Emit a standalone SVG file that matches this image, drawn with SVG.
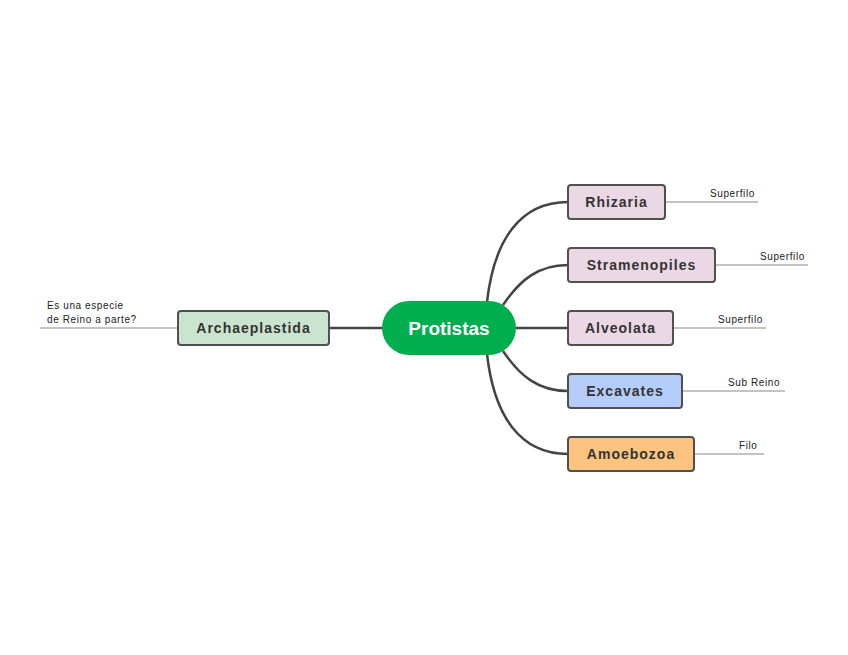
<svg xmlns="http://www.w3.org/2000/svg" width="848" height="655" viewBox="0 0 848 655">
<style>
.node{stroke:#505050;stroke-width:2}
.lbl{font-family:"Liberation Sans",Arial,sans-serif;font-size:14px;font-weight:bold;fill:#333;letter-spacing:1px}
.leaf{font-family:"Liberation Sans",Arial,sans-serif;font-size:10px;fill:#222;letter-spacing:0.6px}
.con{fill:none;stroke:#444;stroke-width:2.5}
.lline{fill:none;stroke:#888;stroke-width:1.2}
</style>
<rect width="848" height="655" fill="#fff"/>
<g id="connectors">
<path class="con" d="M329,328 H384"/>
<path class="con" d="M514,328 H568"/>
<path class="con" d="M487,302 C494,240 520,202 568,202"/>
<path class="con" d="M503,305 C520,280 538,265 568,265"/>
<path class="con" d="M503,351 C520,376 538,391 568,391"/>
<path class="con" d="M487,354 C494,416 520,454 568,454"/>
<path class="lline" d="M40,328 H178"/>
<path class="lline" d="M665,202 H758"/>
<path class="lline" d="M715,265 H808"/>
<path class="lline" d="M673,328 H766"/>
<path class="lline" d="M682,391 H785"/>
<path class="lline" d="M694,454 H764"/>
</g>
<g id="protistas">
<rect x="382" y="301" width="134" height="54" rx="27" fill="#00ad4f"/>
<text x="449" y="334.5" text-anchor="middle" font-family="Liberation Sans,Arial,sans-serif" font-size="19" font-weight="bold" fill="#fff">Protistas</text>
</g>
<g id="archaeplastida">
<rect class="node" x="178" y="311" width="151" height="34" rx="3" fill="#cbe4d0"/>
<text class="lbl" x="253.5" y="333" text-anchor="middle">Archaeplastida</text>
<text class="leaf" x="47" y="309">Es una especie</text>
<text class="leaf" x="47" y="323">de Reino a parte?</text>
</g>
<g id="rhizaria">
<rect class="node" x="568" y="185" width="97" height="34" rx="3" fill="#ead8e4"/>
<text class="lbl" x="616.5" y="207" text-anchor="middle">Rhizaria</text>
<text class="leaf" x="710" y="197">Superfilo</text>
</g>
<g id="stramenopiles">
<rect class="node" x="568" y="248" width="147" height="34" rx="3" fill="#ead8e4"/>
<text class="lbl" x="641.5" y="270" text-anchor="middle">Stramenopiles</text>
<text class="leaf" x="760" y="260">Superfilo</text>
</g>
<g id="alveolata">
<rect class="node" x="568" y="311" width="105" height="34" rx="3" fill="#ead8e4"/>
<text class="lbl" x="620.5" y="333" text-anchor="middle">Alveolata</text>
<text class="leaf" x="718" y="323">Superfilo</text>
</g>
<g id="excavates">
<rect class="node" x="568" y="374" width="114" height="34" rx="3" fill="#b5cdfb"/>
<text class="lbl" x="625" y="396" text-anchor="middle">Excavates</text>
<text class="leaf" x="728" y="386">Sub Reino</text>
</g>
<g id="amoebozoa">
<rect class="node" x="568" y="437" width="126" height="34" rx="3" fill="#fcc47f"/>
<text class="lbl" x="631" y="459" text-anchor="middle">Amoebozoa</text>
<text class="leaf" x="739" y="449">Filo</text>
</g>
</svg>
